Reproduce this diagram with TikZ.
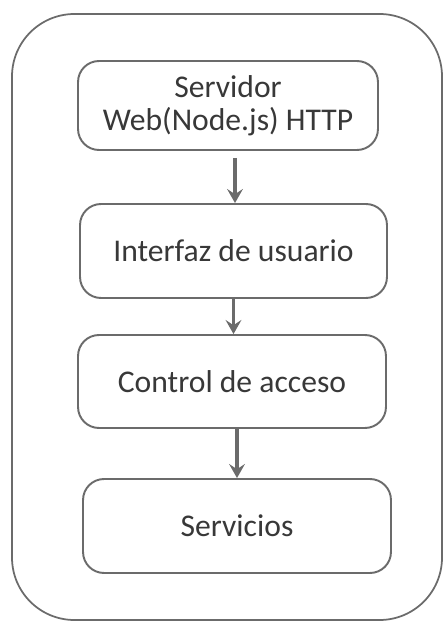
\documentclass[tikz,border=0pt]{standalone}
\usepackage{fontspec}
\setmainfont{Carlito}
\usetikzlibrary{arrows.meta}
\definecolor{linegray}{HTML}{6B6B6B}
\definecolor{textgray}{HTML}{383838}
\tikzset{
  layerbox/.style={draw=linegray, line width=1.1pt, rounded corners=0.42cm, align=center,
    text=textgray, font=\fontsize{18}{19}\selectfont, inner sep=0pt},
  flow/.style={draw=linegray, line width=2pt, -{Stealth[length=8pt, width=9pt, inset=3pt]}}
}
\begin{document}
\begin{tikzpicture}[x=0.02cm, y=-0.02cm]
\useasboundingbox (0,0) rectangle (444,624);
\draw[linegray, line width=1pt, rounded corners=1.25cm] (12,14) rectangle (442,620);

\node[layerbox, minimum width=6cm, minimum height=1.78cm] (server) at (228,105.5) {Servidor\\Web(Node.js) HTTP};
\node[layerbox, minimum width=6.14cm, minimum height=1.88cm] (ui) at (233.5,251) {Interfaz de usuario};
\node[layerbox, minimum width=6.16cm, minimum height=1.86cm] (access) at (232,381.5) {Control de acceso};
\node[layerbox, minimum width=6.16cm, minimum height=1.88cm] (services) at (237,526) {Servicios};

\draw[flow] ([xshift=0.14cm, yshift=-0.14cm]server.south) coordinate (a1) -- (a1 |- ui.north);
\draw[flow] (ui.south) -- (ui.south |- access.north);
\draw[flow] (services.north |- access.south) -- (services.north);
\end{tikzpicture}
\end{document}
